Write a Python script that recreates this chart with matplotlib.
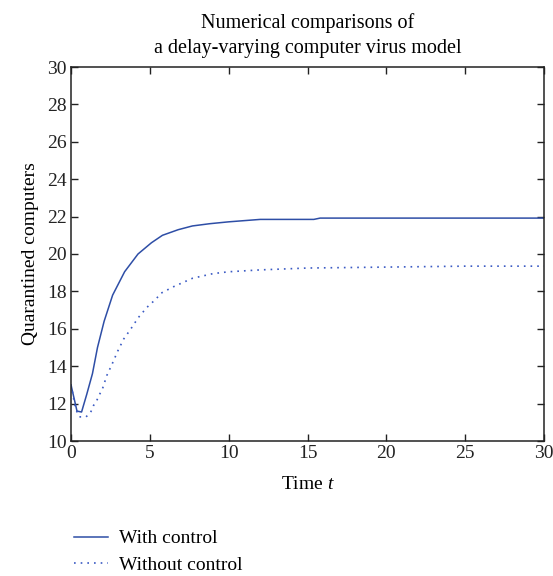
import matplotlib
matplotlib.use('Agg')
import matplotlib.pyplot as plt

# time points and values
t_with = [0, 0.38, 0.67, 1.0, 1.36, 1.68, 2.1, 2.64, 3.4, 4.25, 5.1, 5.8, 6.8, 7.7,
          8.8, 10, 12, 15.4, 15.8, 20, 25, 30]
with_control = [13.0, 11.6, 11.55, 12.5, 13.6, 15.0, 16.4, 17.8, 19.05, 20.0, 20.6, 21.0,
                21.3, 21.5, 21.62, 21.72, 21.85, 21.85, 21.92, 21.92, 21.92, 21.92]

t_without = [0, 0.3, 0.53, 0.95, 1.23, 1.43, 1.62, 1.8, 2.0, 2.27, 2.6, 2.96, 3.34, 3.8,
             4.27, 4.82, 5.4, 5.7, 6.5, 7.7, 9, 10, 12, 15, 20, 25, 30]
without_control = [13.0, 11.7, 11.29, 11.29, 11.5, 11.9, 12.14, 12.47, 12.8, 13.5, 14.1,
                   14.8, 15.45, 16.0, 16.6, 17.15, 17.6, 17.9, 18.25, 18.7, 18.95, 19.05,
                   19.15, 19.25, 19.3, 19.35, 19.35]

plt.rcParams['font.family'] = ['Liberation Serif', 'DejaVu Serif']
plt.rcParams['mathtext.fontset'] = 'custom'
plt.rcParams['mathtext.it'] = 'Liberation Serif:italic'

fig = plt.figure(figsize=(5.53, 5.76), dpi=100)
ax = fig.add_axes([71 / 553, 1 - 441 / 576, 473 / 553, 374 / 576])

ax.plot(t_with, with_control, '-', color='#2e4ea6', lw=1.1, label='With control')
ax.plot(t_without, without_control, linestyle=(0, (1, 3)), color='#3a5ac4', lw=1.2,
        label='Without control')

ax.set_xlim(0, 30)
ax.set_ylim(10, 30)
ax.set_xticks(range(0, 31, 5))
ax.set_yticks(range(10, 31, 2))
ax.tick_params(direction='in', top=True, right=True, length=5, width=1,
               labelsize=14, pad=3, colors='#222222')
for s in ax.spines.values():
    s.set_linewidth(1.1)
    s.set_color('#222222')

ax.set_xlabel('Time $t$', fontsize=14, labelpad=10)
ax.set_ylabel('Quarantined computers', fontsize=14, labelpad=6)
ax.set_title('Numerical comparisons of\na delay-varying computer virus model',
             fontsize=14.5, linespacing=1.45, pad=10)

fig.legend(loc='upper left', bbox_to_anchor=(66 / 553, 1 - 522 / 576), frameon=False,
           fontsize=14, handlelength=1.75, handletextpad=0.6, labelspacing=0.45,
           borderaxespad=0, borderpad=0.4)

fig.savefig('out.png', dpi=100)
